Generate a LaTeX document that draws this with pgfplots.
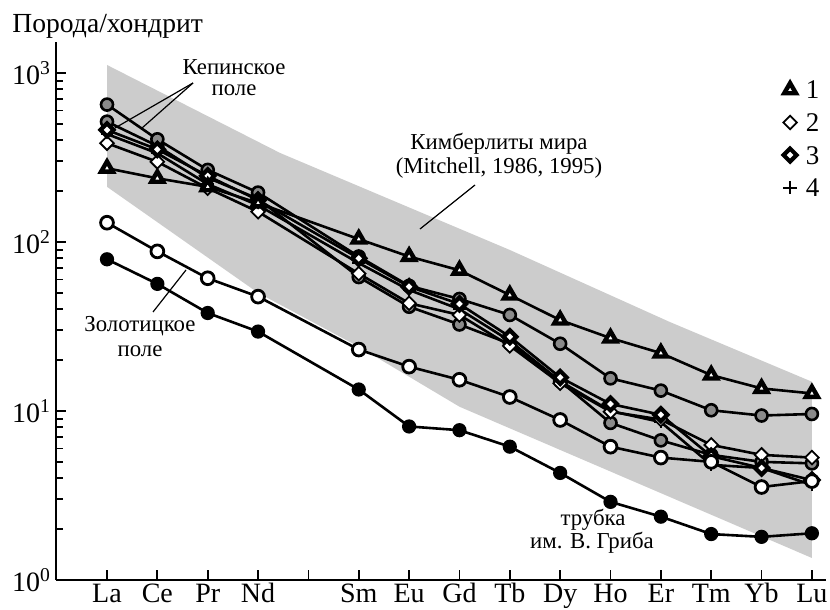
\documentclass[border=0pt]{standalone}
\usepackage{fontspec}
\setmainfont{Liberation Serif}
\usepackage{pgfplots}
\pgfplotsset{compat=1.18}
\usepackage{pgfplotstable}

\definecolor{bandgray}{RGB}{204,204,204}
\definecolor{circgray}{RGB}{138,138,138}

\pgfplotstableread{
x s1 s2 s3 s4 g1 g2 oc bc
0 273 384 460 435 650 515 130 79
1 238 298 353 335 405 370 88 56.5
2 212 208 246 220 267 240 61 38
3 170 151 177 165 196 180 47.5 29.5
5 104 65 80 75 82 62 23.1 13.4
6 82 43.4 54.4 52 55 41.4 18.3 8.1
7 68 37 43 40 46 32.5 15.3 7.7
8 48.5 24.3 27.5 26 37 25 12.1 6.15
9 34.5 14.6 15.8 15 25 15 8.85 4.3
10 27 9.9 11 10 15.6 8.5 6.15 2.9
11 22 8.9 9.5 8.6 13.2 6.7 5.3 2.37
12 16.3 6.3 5.4 4.8 10.1 5.5 5.0 1.87
13 13.6 5.5 4.6 4.6 9.4 5.0 3.55 1.80
14 12.7 5.3 3.9 3.65 9.6 4.9 3.85 1.89
}\reedata

\pgfplotstableread{
x y
0 1115
3.44 336
8.0 89.7
11.18 33.6
14 14.9
14 1.35
7.0 10.6
5 24
3 50
0 212
}\bandtable

\begin{document}
\begin{tikzpicture}
\useasboundingbox (0,0) rectangle (415pt,305pt);
\begin{axis}[
  at={(28pt,15pt)}, anchor=south west,
  scale only axis, width=385pt, height=269pt,
  xmin=-1.013, xmax=14.28,
  ymode=log, ymin=1, ymax=1525,
  axis x line*=bottom, axis y line*=left,
  axis line style={line width=1pt},
  xtick={0,...,14},
  xticklabels={La,Ce,Pr,Nd,,Sm,Eu,Gd,Tb,Dy,Ho,Er,Tm,Yb,Lu},
  ytick={1,10,100,1000},
  yticklabels={10\textsuperscript{0},10\textsuperscript{1},10\textsuperscript{2},10\textsuperscript{3}},
  minor ytick={2,3,4,5,6,7,8,9,20,30,40,50,60,70,80,90,200,300,400,500,600,700,800,900},
  tick align=inside,
  major tick length=5pt, minor tick length=3.4pt,
  every tick/.style={black, line width=0.9pt},
  tick label style={font=\fontsize{14}{16}\selectfont},
  xticklabel style={anchor=base, yshift=-11.3pt},
  yticklabel style={xshift=1pt},
  clip=false,
  legend cell align=left,
  legend image code/.code={\path[draw=none,fill=none] (0cm,0cm) -- (0.42cm,0cm); \draw[mark repeat=2,mark phase=2,#1] plot coordinates {(0cm,0cm)(0.16cm,0cm)(0.42cm,0cm)};},
  legend style={at={(0.941,0.934)}, anchor=north west, draw=none, fill=none,
    font=\fontsize{13.5}{15}\selectfont, row sep=4.3pt, inner sep=0pt,
    nodes={inner sep=0.5pt, text height=10pt, text depth=1pt}},
]
\addplot[fill=bandgray, draw=none, forget plot] table[x=x,y=y] {\bandtable} -- cycle;

\addplot[black, line width=1.3pt, mark=*, mark size=3pt, mark options={fill=circgray, draw=none}, forget plot] table[x=x,y=g2] {\reedata};
\addplot[black, line width=1.3pt, mark=*, mark size=3pt, mark options={fill=circgray, draw=none}, forget plot] table[x=x,y=g1] {\reedata};
\addplot[black, line width=1.3pt, mark=+, mark size=3.2pt, mark options={line width=1pt}, forget plot] table[x=x,y=s4] {\reedata};
\addplot[black, line width=1.3pt, mark=square*, mark size=2.4pt, mark options={rotate=45, fill=white, draw=black, line width=0.9pt}, forget plot] table[x=x,y=s2] {\reedata};
\addplot[black, line width=1.3pt, mark=square*, mark size=2.3pt, mark options={rotate=45, fill=white, draw=black, line width=2.1pt}, forget plot] table[x=x,y=s3] {\reedata};
\addplot[black, line width=1.3pt, mark=triangle*, mark size=3.4pt, mark options={fill=white, draw=black, line width=2.2pt}, forget plot] table[x=x,y=s1] {\reedata};
\addplot[black, line width=1.3pt, mark=*, mark size=3.2pt, mark options={fill=white, draw=black, line width=1.4pt}, forget plot] table[x=x,y=oc] {\reedata};
\addplot[black, line width=1.3pt, mark=*, mark size=2.9pt, mark options={fill=black, draw=none}, forget plot] table[x=x,y=bc] {\reedata};

\addlegendimage{only marks, mark=triangle*, mark size=3.4pt, mark options={fill=white, draw=black, line width=2.2pt}}
\addlegendentry{1}
\addlegendimage{only marks, mark=square*, mark size=2.4pt, mark options={rotate=45, fill=white, draw=black, line width=0.9pt}}
\addlegendentry{2}
\addlegendimage{only marks, mark=square*, mark size=2.3pt, mark options={rotate=45, fill=white, draw=black, line width=2.1pt}}
\addlegendentry{3}
\addlegendimage{only marks, mark=+, mark size=3.4pt, mark options={line width=0.9pt}}
\addlegendentry{4}
\end{axis}

\begin{scope}[x=0.5pt, y=-0.5pt, yshift=305pt]
\node[anchor=base west, inner sep=0pt, font=\fontsize{13.8}{15}\selectfont] at (12,33) {Порода/хондрит};
\begin{scope}[font=\fontsize{11.4}{13}\selectfont, inner sep=0pt]
\node[anchor=base] at (234,75) {Кепинское};
\node[anchor=base] at (234,96) {поле};
\draw[line width=0.6pt] (193,83) -- (115,128);
\draw[line width=0.6pt] (193,83) -- (142,128);
\node[anchor=base] at (499,150) {Кимберлиты мира};
\node[anchor=base] at (499,174) {(Mitchell, 1986, 1995)};
\draw[line width=0.6pt] (475,185) -- (420,229);
\node[anchor=base] at (140,332) {Золотицкое};
\node[anchor=base] at (140,357) {поле};
\draw[line width=0.6pt] (186,270) -- (153,312);
\node[anchor=base] at (593,526) {трубка};
\node[anchor=base] at (592,549) {им. В. Гриба};
\end{scope}
\end{scope}
\end{tikzpicture}
\end{document}
